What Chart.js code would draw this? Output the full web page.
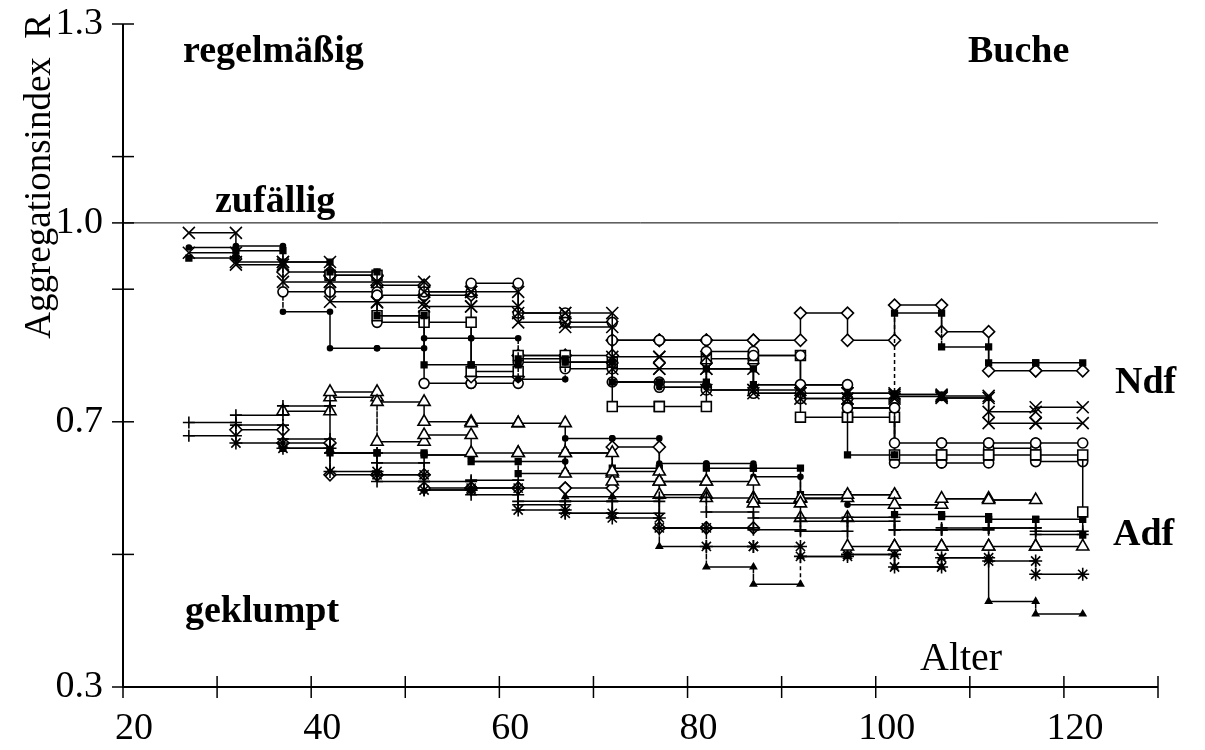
<!DOCTYPE html>
<html>
<head>
<meta charset="utf-8">
<script src="https://cdn.jsdelivr.net/npm/chart.js@4.4.0/dist/chart.umd.min.js"></script>
<style>
  html, body { margin: 0; padding: 0; background: #fff; }
  #wrap { width: 1205px; height: 750px; }
</style>
</head>
<body>
<div id="wrap"><canvas id="chart" width="1205" height="750"></canvas></div>
<script>
// stand ages (inventory years); each value below holds from ages[i] to ages[i+1]
const ages = [27, 32, 37, 42, 47, 52, 57, 62, 67, 72, 77, 82, 87, 92, 97, 102, 107, 112, 117, 122];

const xTicks = [20, 30, 40, 50, 60, 70, 80, 90, 100, 110, 120, 130];
const xLabels = [20, 40, 60, 80, 100, 120];
const yTicks = [0.3, 0.5, 0.7, 0.9, 1.0, 1.1, 1.3];
const yLabels = [0.3, 0.7, 1.0, 1.3];

// Ndf group (upper band)
const ndfCrossA = [0.985, 0.941, 0.941, 0.911, 0.911, 0.896, 0.896, 0.864, 0.864, 0.798, 0.798, 0.780, 0.743, 0.743, 0.743, 0.741, 0.739, 0.698, 0.698];
const ndfCrossB = [0.955, 0.937, 0.911, 0.881, 0.880, 0.874, 0.874, 0.850, 0.843, 0.780, 0.780, 0.748, 0.748, 0.735, 0.735, 0.738, 0.736, 0.715, 0.722];
const ndfCircle = [null, null, 0.896, 0.896, 0.891, 0.896, 0.909, 0.864, 0.850, 0.823, 0.823, 0.806, 0.800, 0.756, 0.721, 0.668, 0.668, 0.668, 0.668];
const ndfDot = [0.963, 0.965, 0.866, 0.811, 0.811, 0.826, 0.826, 0.764, 0.790, 0.760, 0.752, 0.780, 0.756, 0.756, 0.743, 0.741, 0.736, null, null];
const ndfSquareFilled = [0.947, 0.958, 0.941, 0.926, 0.860, 0.786, 0.786, 0.795, 0.790, 0.760, 0.760, 0.780, 0.756, 0.756, 0.650, 0.864, 0.813, 0.789, 0.789];
const ndfSquareOpen = [null, null, null, 0.921, 0.860, 0.850, 0.776, 0.800, 0.790, 0.723, 0.723, 0.795, 0.800, 0.707, 0.707, 0.650, 0.650, 0.650, 0.650];
const ndfSquareOpenEnd = 0.564;
const ndfDiamond = [null, null, 0.926, 0.921, 0.906, 0.891, 0.768, 0.800, 0.800, 0.823, 0.823, 0.823, 0.823, 0.864, 0.823, 0.876, 0.836, 0.777, 0.777];
const ndfCircleB = [null, null, null, null, 0.850, 0.758, 0.758, 0.790, 0.780, 0.760, 0.752, 0.748, 0.743, 0.735, 0.721, 0.638, 0.638, 0.660, 0.640];

// Adf group (lower band)
const adfPlusA = [0.699, 0.710, 0.724, 0.653, 0.638, 0.610, 0.612, 0.580, 0.580, 0.580, 0.586, 0.564, 0.555, 0.550, 0.550, 0.537, 0.537, 0.540, 0.535];
const adfPlusB = [0.679, 0.695, 0.674, 0.653, 0.610, 0.597, 0.590, 0.575, 0.562, 0.562, 0.540, 0.540, 0.537, 0.535, 0.556, 0.537, 0.540, 0.540, 0.530];
const adfTriA = [null, null, 0.716, 0.745, 0.730, 0.700, 0.698, 0.698, 0.653, 0.625, 0.610, 0.610, 0.577, 0.555, 0.512, 0.512, 0.512, 0.512, 0.512];
const adfTriB = [null, null, null, 0.737, 0.670, 0.680, 0.653, 0.653, 0.622, 0.610, 0.590, 0.585, 0.584, 0.585, 0.590, 0.575, 0.584, 0.582, null];
const adfStar = [null, 0.668, 0.660, 0.625, 0.620, 0.597, 0.600, 0.567, 0.562, 0.555, 0.540, 0.512, 0.512, 0.497, 0.500, 0.481, 0.495, 0.490, 0.470];
const adfDiamond = [null, 0.688, 0.668, 0.620, 0.620, 0.600, 0.600, 0.600, 0.600, 0.662, 0.540, 0.540, null, null, null, null, null, null, null];
const adfDot = [null, null, null, null, null, 0.650, 0.640, 0.640, 0.675, 0.675, 0.637, 0.637, 0.617, 0.584, 0.575, 0.575, 0.584, 0.582, null];
const adfSquareFilled = [null, null, 0.660, 0.653, 0.653, 0.650, 0.640, 0.622, 0.653, 0.630, 0.610, 0.630, 0.630, 0.590, 0.590, 0.560, 0.557, 0.553, 0.553];
const adfSquareFilledEnd = 0.529;
const adfTriSmall = [null, null, null, null, null, null, null, null, 0.587, 0.587, 0.512, 0.481, 0.455, 0.497, 0.500, 0.481, 0.495, 0.429, 0.410];

const SERIF = '"Liberation Serif", "DejaVu Serif", serif';

// turn per-period values into a step line with a marker at both ends of every period
const toSteps = (vals, end) => {
  const pts = [];
  vals.forEach((v, i) => {
    if (v === null) {
      if (pts.length && pts[pts.length - 1].y !== null) pts.push({ x: ages[i], y: null });
      return;
    }
    pts.push({ x: ages[i], y: v }, { x: ages[i + 1], y: v });
  });
  if (end != null) pts.push({ x: ages[ages.length - 1], y: end });
  return pts;
};

const dashVertical = { borderDash: (ctx) => (ctx.p0.parsed.x === ctx.p1.parsed.x ? [4, 3] : undefined) };

const series = (label, vals, style, radius, filled, dashed, end) => ({
  label,
  data: toSteps(vals, end),
  borderColor: '#000',
  borderWidth: 1.5,
  tension: 0,
  spanGaps: false,
  fill: false,
  pointStyle: style,
  pointRadius: radius,
  pointHoverRadius: radius,
  pointBorderColor: '#000',
  pointBorderWidth: 1.6,
  pointBackgroundColor: filled ? '#000' : '#fff',
  segment: dashed ? dashVertical : undefined
});

const datasets = [
  series('Ndf X1', ndfCrossA, 'crossRot', 8.5, false, false),
  series('Ndf X2', ndfCrossB, 'crossRot', 8.5, false, false),
  series('Ndf O', ndfCircle, 'circle', 5, false, false),
  series('Ndf dot', ndfDot, 'circle', 2.5, true, true),
  series('Ndf sq', ndfSquareFilled, 'rect', 4, true, true),
  series('Ndf box', ndfSquareOpen, 'rect', 7, false, false, ndfSquareOpenEnd),
  series('Ndf diamond', ndfDiamond, 'rectRot', 6, false, false),
  series('Ndf O2', ndfCircleB, 'circle', 5, false, false),
  series('Adf +1', adfPlusA, 'cross', 6, false, true),
  series('Adf +2', adfPlusB, 'cross', 6, false, true),
  series('Adf tri1', adfTriA, 'triangle', 7, false, false),
  series('Adf tri2', adfTriB, 'triangle', 7, false, true),
  series('Adf star', adfStar, 'star', 6.5, false, true),
  series('Adf diamond', adfDiamond, 'rectRot', 6, false, true),
  series('Adf dot', adfDot, 'circle', 2.5, true, true),
  series('Adf sq', adfSquareFilled, 'rect', 4, true, true, adfSquareFilledEnd),
  series('Adf tri small', adfTriSmall, 'triangle', 3.5, true, true)
];

// axes with ticks crossing the axis line, the R = 1 line and the text labels
const decorations = {
  id: 'decorations',
  afterDraw(chart) {
    const { ctx, chartArea: a, scales: { x, y } } = chart;
    ctx.save();
    ctx.strokeStyle = '#000';
    ctx.fillStyle = '#000';

    ctx.lineWidth = 1;
    ctx.beginPath();
    ctx.moveTo(a.left, y.getPixelForValue(1.0));
    ctx.lineTo(a.right, y.getPixelForValue(1.0));
    ctx.stroke();

    ctx.lineWidth = 2;
    ctx.beginPath();
    ctx.moveTo(a.left, a.top);
    ctx.lineTo(a.left, a.bottom);
    ctx.lineTo(a.right, a.bottom);
    ctx.stroke();

    ctx.lineWidth = 1.5;
    yTicks.forEach((v) => {
      const py = y.getPixelForValue(v);
      ctx.beginPath();
      ctx.moveTo(a.left - 11, py);
      ctx.lineTo(a.left + 11, py);
      ctx.stroke();
    });
    xTicks.forEach((v) => {
      const px = x.getPixelForValue(v);
      ctx.beginPath();
      ctx.moveTo(px, a.bottom - 11);
      ctx.lineTo(px, a.bottom + 11);
      ctx.stroke();
    });

    ctx.textBaseline = 'alphabetic';
    ctx.textAlign = 'left';
    ctx.font = `bold 38px ${SERIF}`;
    ctx.fillText('regelmäßig', 183, 62);
    ctx.fillText('Buche', 968, 62);
    ctx.fillText('zufällig', 215, 212);
    ctx.fillText('Ndf', 1115, 393);
    ctx.fillText('Adf', 1113, 545);
    ctx.fillText('geklumpt', 185, 622);
    ctx.font = `40px ${SERIF}`;
    ctx.fillText('Alter', 920, 670);

    ctx.translate(50, 14);
    ctx.rotate(-Math.PI / 2);
    ctx.textAlign = 'right';
    ctx.font = `37px ${SERIF}`;
    ctx.fillText('Aggregationsindex  R', 0, 0);
    ctx.restore();
  }
};

new Chart(document.getElementById('chart'), {
  type: 'line',
  data: { datasets },
  options: {
    responsive: false,
    animation: false,
    devicePixelRatio: 1,
    layout: { padding: { top: 24, right: 47, left: 0, bottom: 0 } },
    plugins: { legend: { display: false }, tooltip: { enabled: false } },
    scales: {
      x: {
        type: 'linear',
        min: 20,
        max: 130,
        afterBuildTicks: (s) => { s.ticks = xTicks.map((v) => ({ value: v })); },
        afterFit: (s) => { s.height = 63; s.paddingLeft = 0; s.paddingRight = 0; },
        grid: { display: false, drawTicks: false },
        border: { display: false },
        ticks: {
          autoSkip: false,
          maxRotation: 0,
          padding: 19,
          labelOffset: 11,
          color: '#000',
          font: { family: SERIF, size: 38 },
          callback: (v) => (xLabels.includes(v) ? String(v) : '')
        }
      },
      y: {
        min: 0.3,
        max: 1.3,
        afterBuildTicks: (s) => { s.ticks = yTicks.map((v) => ({ value: v })); },
        afterFit: (s) => { s.width = 123; s.paddingTop = 0; s.paddingBottom = 0; },
        grid: { display: false, drawTicks: false },
        border: { display: false },
        ticks: {
          padding: 20,
          color: '#000',
          font: { family: SERIF, size: 38 },
          callback: (v) => (yLabels.some((l) => Math.abs(l - v) < 1e-6) ? v.toFixed(1) : '')
        }
      }
    }
  },
  plugins: [decorations]
});
</script>
</body>
</html>
